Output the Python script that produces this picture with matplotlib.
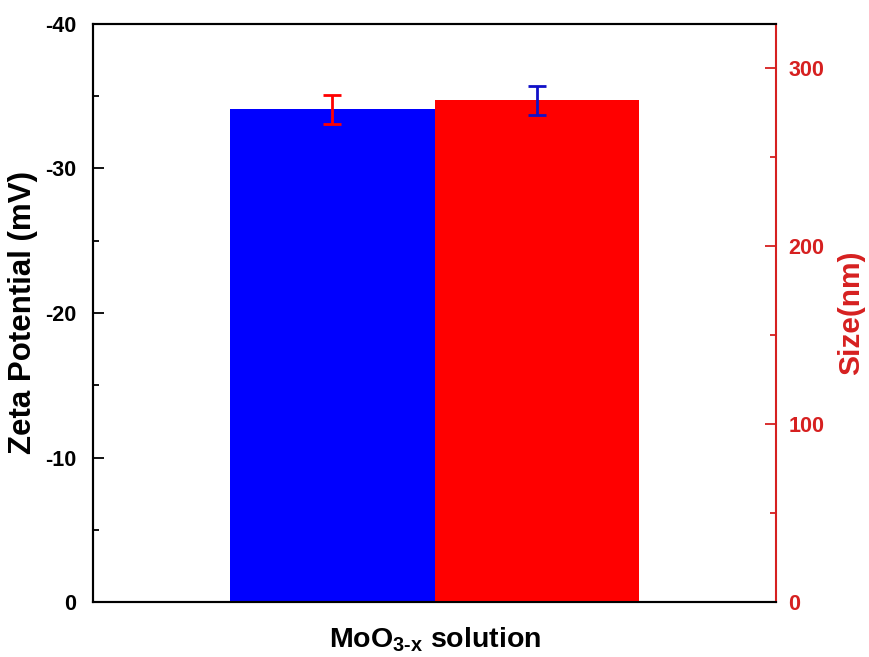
import matplotlib.pyplot as plt
from matplotlib.ticker import MultipleLocator

plt.rcParams["font.family"] = ["Liberation Sans", "DejaVu Sans"]
plt.rcParams["font.weight"] = "bold"
plt.rcParams["axes.unicode_minus"] = False
plt.rcParams["mathtext.fontset"] = "custom"
plt.rcParams["mathtext.rm"] = "Liberation Sans:bold"
plt.rcParams["mathtext.bf"] = "Liberation Sans:bold"
plt.rcParams["mathtext.default"] = "bf"

# measured values
sample = "MoO$_{3\u2010x}$ solution"
zeta = [-34.1]
zeta_err = [1.0]
size = [282.0]
size_err = [8.2]

blue = "#0000ff"
red = "#ff0000"
axis_red = "#d62020"

fig = plt.figure(figsize=(8.7, 6.57), dpi=100)
ax = fig.add_axes([0.107, 0.0837, 0.785, 0.8798])
ax2 = ax.twinx()

width = 0.3
ax.bar([-width / 2], zeta, width=width, color=blue, yerr=zeta_err,
       error_kw=dict(ecolor=red, elinewidth=2, capsize=6.5, capthick=2))
ax2.bar([width / 2], size, width=width, color=red, yerr=size_err,
        error_kw=dict(ecolor="#1010c8", elinewidth=2, capsize=6.5, capthick=2))

ax.set_xlim(-0.5, 0.5)
ax.set_ylim(0, -40)
ax2.set_ylim(0, 325)

ax.set_xticks([0])
ax.set_xticklabels([sample], fontsize=20.5, fontweight="bold")
ax.tick_params(axis="x", length=0, pad=17)

ax.yaxis.set_major_locator(MultipleLocator(10))
ax.yaxis.set_minor_locator(MultipleLocator(5))
ax.tick_params(axis="y", which="major", direction="in", length=8, width=1.3,
               labelsize=15.5, pad=12)
ax.tick_params(axis="y", which="minor", direction="in", length=4, width=1.3)
ax.set_ylabel("Zeta Potential (mV)", fontsize=22.5, fontweight="bold",
              labelpad=5)

ax2.yaxis.set_major_locator(MultipleLocator(100))
ax2.yaxis.set_minor_locator(MultipleLocator(50))
ax2.tick_params(axis="y", which="major", direction="in", length=8, width=1.3,
                labelsize=15.5, pad=9, colors=axis_red)
ax2.tick_params(axis="y", which="minor", direction="in", length=4, width=1.3,
                colors=axis_red)
ax2.set_ylabel("Size(nm)", fontsize=21.5, fontweight="bold", color=axis_red,
               labelpad=9)

for a in (ax, ax2):
    for s in a.spines.values():
        s.set_linewidth(1.5)
ax2.spines["right"].set_color(axis_red)
ax.spines["right"].set_visible(False)

fig.savefig("out.png", dpi=100)
